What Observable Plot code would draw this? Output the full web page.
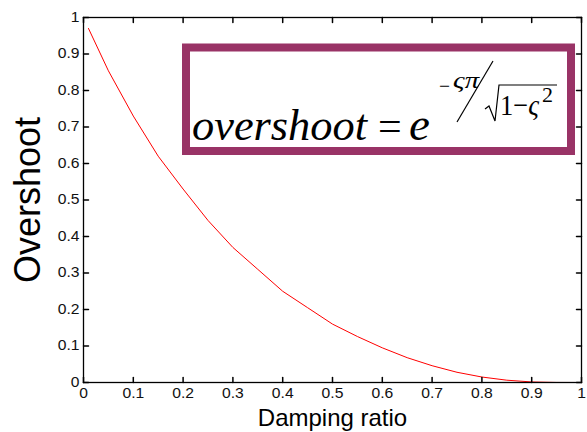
<!DOCTYPE html>
<html>
<head>
<meta charset="utf-8">
<script src="https://cdn.jsdelivr.net/npm/d3@7"></script>
<script src="https://cdn.jsdelivr.net/npm/@observablehq/plot@0.6"></script>
<style>
  html, body { margin: 0; padding: 0; background: #fff; }
  #chart svg { display: block; }
</style>
</head>
<body>
<div id="chart"></div>
<script>
// ---- data ----
const dampingRatio = [0.01, 0.05, 0.1, 0.15, 0.2, 0.25, 0.3, 0.35, 0.4, 0.45, 0.5,
                      0.55, 0.6, 0.65, 0.7, 0.75, 0.8, 0.85, 0.9, 0.95, 1.0];
const overshoot    = [0.97, 0.854, 0.73, 0.62, 0.53, 0.444, 0.37, 0.31, 0.25, 0.205, 0.16,
                      0.126, 0.095, 0.068, 0.046, 0.028, 0.015, 0.0063, 0.0015, 0.0001, 0];
const xTicks = [0, 0.1, 0.2, 0.3, 0.4, 0.5, 0.6, 0.7, 0.8, 0.9, 1];
const xTickLabels = ["0", "0.1", "0.2", "0.3", "0.4", "0.5", "0.6", "0.7", "0.8", "0.9", "1"];
const yTicks = [0, 0.1, 0.2, 0.3, 0.4, 0.5, 0.6, 0.7, 0.8, 0.9, 1];
const yTickLabels = ["0", "0.1", "0.2", "0.3", "0.4", "0.5", "0.6", "0.7", "0.8", "0.9", "1"];
const xTitle = "Damping ratio";
const yTitle = "Overshoot";

const curve = dampingRatio.map((x, i) => ({x, y: overshoot[i]}));

const tickShape = {draw(ctx, l) { ctx.moveTo(0, 0); ctx.lineTo(0, -l); }};
const sans = "'Liberation Sans', Arial, sans-serif";

const plot = Plot.plot({
  width: 587,
  height: 432,
  marginLeft: 83,
  marginRight: 6,
  marginTop: 17,
  marginBottom: 50,
  style: {fontFamily: sans, fontSize: "14px", color: "#000", background: "#fff"},
  x: {domain: [0, 1]},
  y: {domain: [0, 1]},
  marks: [
    Plot.line(curve, {x: "x", y: "y", stroke: "red", strokeWidth: 1}),
    Plot.frame({stroke: "#000", strokeWidth: 1.3}),
    // inward ticks on all four sides
    Plot.vector(xTicks, {x: d => d, y: () => 0, length: 5, rotate: 0, anchor: "start", shape: tickShape, stroke: "#000"}),
    Plot.vector(xTicks, {x: d => d, y: () => 1, length: 5, rotate: 180, anchor: "start", shape: tickShape, stroke: "#000"}),
    Plot.vector(yTicks, {x: () => 0, y: d => d, length: 5, rotate: 90, anchor: "start", shape: tickShape, stroke: "#000"}),
    Plot.vector(yTicks, {x: () => 1, y: d => d, length: 5, rotate: 270, anchor: "start", shape: tickShape, stroke: "#000"}),
    Plot.axisX(xTicks, {tickSize: 0, tickPadding: 6, label: null, fontSize: 14,
      tickFormat: d => xTickLabels[xTicks.indexOf(d)]}),
    Plot.axisY(yTicks, {tickSize: 0, tickPadding: 4, label: null, fontSize: 14,
      tickFormat: d => yTickLabels[yTicks.indexOf(d)]}),
    Plot.text([yTitle], {frameAnchor: "left", dx: -55, rotate: -90, text: d => d,
      fontSize: 36, lineAnchor: "middle", textAnchor: "middle", ariaLabel: "ytitle"}),
    Plot.text([xTitle], {frameAnchor: "bottom", dy: 36, text: d => d,
      fontSize: 24, lineAnchor: "middle", textAnchor: "middle", ariaLabel: "xtitle"})
  ]
});

document.getElementById("chart").appendChild(plot);

const svg = d3.select(plot);
// tick labels: horizontally stretched like the reference
const tickLabelSet = new Set([...xTickLabels, ...yTickLabels]);
svg.selectAll("text")
  .filter(function() { return tickLabelSet.has(this.textContent); })
  .each(function() {
    this.style.setProperty("font-size", "14px", "important");
    this.setAttribute("fill", "#111");
    const len = this.getComputedTextLength();
    if (len > 0) {
      this.setAttribute("textLength", (len * 1.12).toFixed(1));
      this.setAttribute("lengthAdjust", "spacingAndGlyphs");
    }
  });
svg.select("g[aria-label=ytitle] text").attr("textLength", 159).attr("lengthAdjust", "spacingAndGlyphs");
svg.select("g[aria-label=xtitle] text").attr("textLength", 171).attr("lengthAdjust", "spacingAndGlyphs");

// ---- formula annotation box ----
const serif = "'Liberation Serif', 'Times New Roman', serif";
const g = svg.append("g").attr("font-family", serif).attr("fill", "#000").attr("text-anchor", "start");
g.append("rect")
  .attr("x", 186).attr("y", 47.5).attr("width", 385).attr("height", 103.5)
  .attr("fill", "#fff").attr("stroke", "#993366").attr("stroke-width", 8);
g.append("text")
  .attr("x", 192).attr("y", 140).attr("font-size", 45).attr("font-style", "italic")
  .attr("textLength", 175).attr("lengthAdjust", "spacingAndGlyphs")
  .text("overshoot");
g.append("text")
  .attr("x", 378).attr("y", 140).attr("font-size", 42)
  .text("=");
g.append("text")
  .attr("x", 409).attr("y", 140).attr("font-size", 47).attr("font-style", "italic")
  .text("e");
// exponent numerator
g.append("text")
  .attr("x", 439).attr("y", 93).attr("font-size", 21)
  .attr("textLength", 11).attr("lengthAdjust", "spacingAndGlyphs")
  .text("\u2212");
g.append("text")
  .attr("x", 453).attr("y", 88).attr("font-size", 24).attr("font-style", "italic")
  .attr("textLength", 26).attr("lengthAdjust", "spacingAndGlyphs")
  .text("\u03C2\u03C0");
// slash
g.append("line")
  .attr("x1", 457).attr("y1", 122).attr("x2", 493).attr("y2", 61)
  .attr("stroke", "#000").attr("stroke-width", 1.2);
// square root
g.append("path")
  .attr("d", "M485,109 L489,106 L495,121 L499,85 L557,85")
  .attr("fill", "none").attr("stroke", "#000").attr("stroke-width", 1.2);
const den = g.append("text").attr("x", 500).attr("y", 115).attr("font-size", 30)
  .attr("textLength", 39).attr("lengthAdjust", "spacingAndGlyphs");
den.append("tspan").text("1\u2212");
den.append("tspan").attr("font-style", "italic").text("\u03C2");
g.append("text")
  .attr("x", 542).attr("y", 102).attr("font-size", 22)
  .text("2");
</script>
</body>
</html>
